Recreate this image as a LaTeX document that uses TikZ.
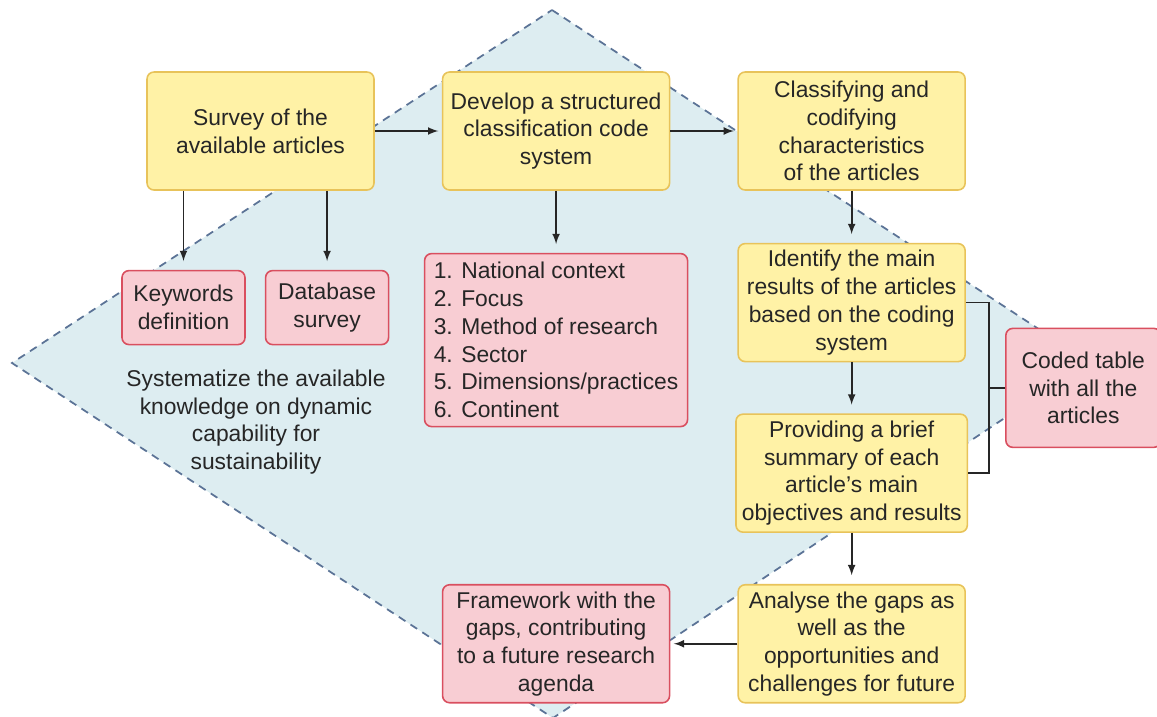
\documentclass[tikz,border=0pt]{standalone}
\usepackage{fontspec}
\setmainfont{Liberation Sans}
\usetikzlibrary{positioning,calc}
\definecolor{stepfill}{HTML}{FFF2A6}
\definecolor{stepdraw}{HTML}{E8C35A}
\definecolor{outfill}{HTML}{F8CDD3}
\definecolor{outdraw}{HTML}{D94F5F}
\definecolor{zonefill}{HTML}{DDEDF1}
\definecolor{zonedraw}{HTML}{5B7396}
\tikzset{
block/.style={
draw=stepdraw,fill=stepfill,
line width=0.9pt,rounded corners=4pt,
minimum width=4.54cm,minimum height=2.36cm,align=center},
output/.style={
draw=outdraw,fill=outfill,
line width=0.9pt,rounded corners=4pt,align=center},
line/.style={-latex,line width=1pt,draw=black!85},
font={\fontsize{13pt}{15.8pt}\selectfont},
text=black!85
}

\begin{document}
\begin{tikzpicture}
  \useasboundingbox (0,0) rectangle (23.14,-14.34);
  \draw[zonedraw,fill=zonefill,dash pattern=on 4.5pt off 3.5pt,line width=1pt] (11.04,-0.2) -- (21.78,-7.24) -- (11.06,-14.36) -- (0.24,-7.26) -- cycle;

  \node[block] (survey) at (5.21,-2.62) {Survey of the\\available articles};
  \node[block, right=1.34cm of survey] (develop) {Develop a structured\\classification code\\system};
  \node[block, right=1.34cm of develop] (classif) {Classifying and\\codifying\\characteristics\\of the articles};
  \node[output, minimum width=2.46cm, minimum height=1.48cm, below=1.58cm of survey, xshift=-1.54cm] (keyw) {Keywords\\definition};
  \node[output, minimum width=2.46cm, minimum height=1.48cm, right=0.38cm of keyw] (dbase) {Database\\survey};
  \node[output, align=left, minimum width=5.26cm, minimum height=3.46cm, below=1.24cm of develop] (codes) {1. National context\\2. Focus\\3. Method of research\\4. Sector\\5. Dimensions/practices\\6. Continent};
  \node[block, below=1.04cm of classif] (ident) {Identify the main\\results of the articles\\based on the coding\\system};
  \node[block, below=1.02cm of ident] (prov) {Providing a brief\\summary of each\\article’s main\\objectives and results};
  \node[block, below=1.02cm of prov] (analyse) {Analyse the gaps as\\well as the\\opportunities and\\challenges for future};
  \node[output, minimum width=4.54cm, minimum height=2.36cm, left=1.34cm of analyse] (frame) {Framework with the\\gaps, contributing\\to a future research\\agenda};
  \coordinate (mid) at ($(ident.east)!0.5!(prov.east)$);
  \node[output, minimum width=3.1cm, minimum height=2.38cm, right=0.76cm of mid] (coded) {Coded table\\with all the\\articles};
  \node[align=center] (goal) at (5.12,-8.44) {Systematize the available\\knowledge on dynamic\\capability for\\sustainability};

  \draw[line, shorten >=2pt] (survey) -- (develop);
  \draw[line, shorten >=2pt] (develop) -- (classif);
  \draw[line, shorten >=5pt] (keyw.north |- survey.south) -- (keyw.north);
  \draw[line, shorten >=5pt] (dbase.north |- survey.south) -- (dbase.north);
  \draw[line, shorten >=5pt] (develop) -- (codes);
  \draw[line, shorten >=5pt] (classif) -- (ident);
  \draw[line, shorten >=5pt] (ident) -- (prov);
  \draw[line, shorten >=5pt] (prov) -- (analyse);
  \draw[line, shorten >=2pt] (analyse) -- (frame);
  % bracket to the coded table
  \draw[line width=1pt,black!85] (ident.east) -- ++(0.46,0) coordinate (brk) |- (prov.east);
  \draw[line width=1pt,black!85] (coded.west) -- (coded.west -| brk);
\end{tikzpicture}
\end{document}
